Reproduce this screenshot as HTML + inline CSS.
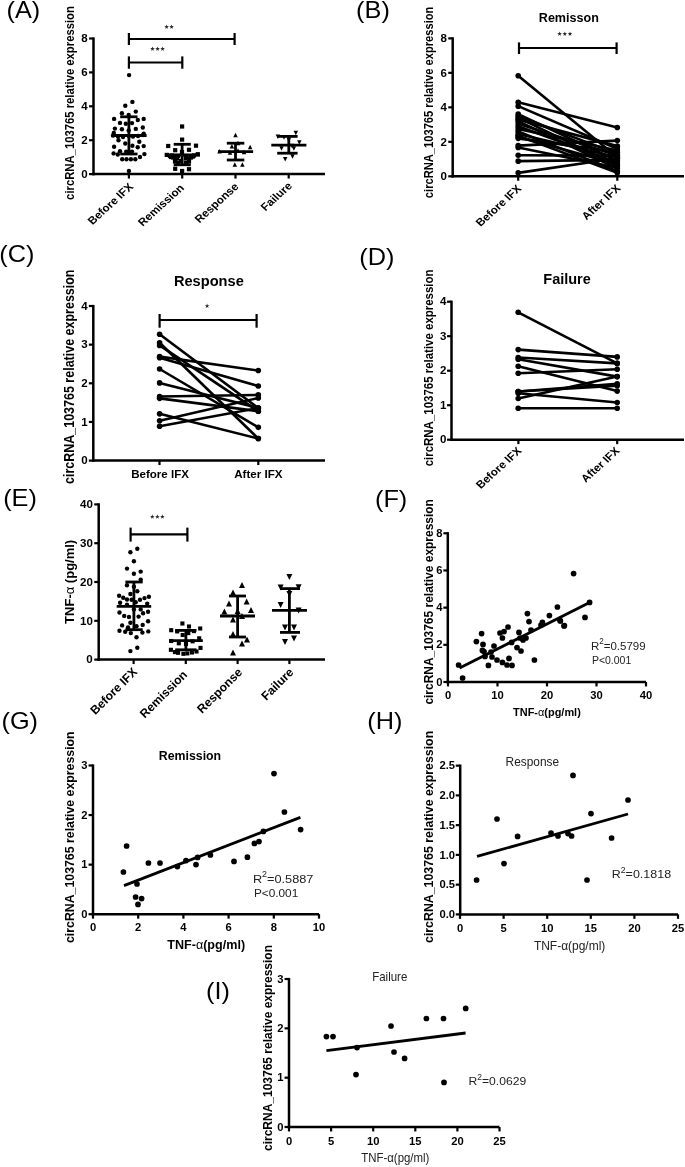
<!DOCTYPE html>
<html><head><meta charset="utf-8"><style>
html,body{margin:0;padding:0;background:#fff;}
body{width:685px;height:1167px;overflow:hidden;}
svg{display:block;will-change:transform;}
text{font-family:"Liberation Sans",sans-serif;}
</style></head><body>
<svg width="685" height="1167" viewBox="0 0 685 1167" font-family="Liberation Sans, sans-serif">
<rect width="685" height="1167" fill="#fff"/>
<text transform="translate(6.50,18.30) scale(1.1,1)" font-size="23" font-weight="normal" text-anchor="start" fill="#000">(A)</text>
<line x1="93.50" y1="37.40" x2="93.50" y2="175.35" stroke="#000" stroke-width="2.5" stroke-linecap="butt"/>
<line x1="89.05" y1="174.10" x2="93.50" y2="174.10" stroke="#000" stroke-width="2.2" stroke-linecap="butt"/>
<text transform="translate(87.60,177.86) scale(1.1,1)" font-size="10.5" font-weight="bold" text-anchor="end" fill="#000">0</text>
<line x1="89.05" y1="140.20" x2="93.50" y2="140.20" stroke="#000" stroke-width="2.2" stroke-linecap="butt"/>
<text transform="translate(87.60,143.96) scale(1.1,1)" font-size="10.5" font-weight="bold" text-anchor="end" fill="#000">2</text>
<line x1="89.05" y1="106.30" x2="93.50" y2="106.30" stroke="#000" stroke-width="2.2" stroke-linecap="butt"/>
<text transform="translate(87.60,110.06) scale(1.1,1)" font-size="10.5" font-weight="bold" text-anchor="end" fill="#000">4</text>
<line x1="89.05" y1="72.40" x2="93.50" y2="72.40" stroke="#000" stroke-width="2.2" stroke-linecap="butt"/>
<text transform="translate(87.60,76.16) scale(1.1,1)" font-size="10.5" font-weight="bold" text-anchor="end" fill="#000">6</text>
<line x1="89.05" y1="38.50" x2="93.50" y2="38.50" stroke="#000" stroke-width="2.2" stroke-linecap="butt"/>
<text transform="translate(87.60,42.26) scale(1.1,1)" font-size="10.5" font-weight="bold" text-anchor="end" fill="#000">8</text>
<line x1="92.25" y1="174.10" x2="325.00" y2="174.10" stroke="#000" stroke-width="2.5" stroke-linecap="butt"/>
<line x1="128.90" y1="174.10" x2="128.90" y2="178.55" stroke="#000" stroke-width="2.2" stroke-linecap="butt"/>
<line x1="182.20" y1="174.10" x2="182.20" y2="178.55" stroke="#000" stroke-width="2.2" stroke-linecap="butt"/>
<line x1="235.50" y1="174.10" x2="235.50" y2="178.55" stroke="#000" stroke-width="2.2" stroke-linecap="butt"/>
<line x1="288.70" y1="174.10" x2="288.70" y2="178.55" stroke="#000" stroke-width="2.2" stroke-linecap="butt"/>
<text transform="translate(73.60,103.00) scale(1.1,1) rotate(-90)" font-size="11.3" font-weight="bold" text-anchor="middle" fill="#000">circRNA_103765 relative expression</text>
<text transform="translate(134.00,187.40) scale(1.1,1) rotate(-45)" font-size="10.7" font-weight="bold" text-anchor="end" fill="#000">Before IFX</text>
<text transform="translate(184.80,188.50) scale(1.1,1) rotate(-45)" font-size="10.7" font-weight="bold" text-anchor="end" fill="#000">Remission</text>
<text transform="translate(239.30,187.30) scale(1.1,1) rotate(-45)" font-size="10.7" font-weight="bold" text-anchor="end" fill="#000">Response</text>
<text transform="translate(292.80,186.60) scale(1.1,1) rotate(-45)" font-size="10.7" font-weight="bold" text-anchor="end" fill="#000">Failure</text>
<line x1="128.90" y1="39.00" x2="234.60" y2="39.00" stroke="#000" stroke-width="2.2" stroke-linecap="butt"/>
<line x1="128.90" y1="33.00" x2="128.90" y2="45.00" stroke="#000" stroke-width="2.2" stroke-linecap="butt"/>
<line x1="234.60" y1="33.00" x2="234.60" y2="45.00" stroke="#000" stroke-width="2.2" stroke-linecap="butt"/>
<line x1="128.90" y1="62.50" x2="182.30" y2="62.50" stroke="#000" stroke-width="2.2" stroke-linecap="butt"/>
<line x1="128.90" y1="56.40" x2="128.90" y2="68.70" stroke="#000" stroke-width="2.2" stroke-linecap="butt"/>
<line x1="182.30" y1="56.40" x2="182.30" y2="68.70" stroke="#000" stroke-width="2.2" stroke-linecap="butt"/>
<polygon points="166.60,24.50 167.19,26.09 168.88,26.16 167.55,27.21 168.01,28.84 166.60,27.90 165.19,28.84 165.65,27.21 164.32,26.16 166.01,26.09" fill="#2b2b2b"/>
<polygon points="171.60,24.50 172.19,26.09 173.88,26.16 172.55,27.21 173.01,28.84 171.60,27.90 170.19,28.84 170.65,27.21 169.32,26.16 171.01,26.09" fill="#2b2b2b"/>
<polygon points="152.50,46.50 153.09,48.09 154.78,48.16 153.45,49.21 153.91,50.84 152.50,49.90 151.09,50.84 151.55,49.21 150.22,48.16 151.91,48.09" fill="#2b2b2b"/>
<polygon points="157.60,46.50 158.19,48.09 159.88,48.16 158.55,49.21 159.01,50.84 157.60,49.90 156.19,50.84 156.65,49.21 155.32,48.16 157.01,48.09" fill="#2b2b2b"/>
<polygon points="162.60,46.50 163.19,48.09 164.88,48.16 163.55,49.21 164.01,50.84 162.60,49.90 161.19,50.84 161.65,49.21 160.32,48.16 162.01,48.09" fill="#2b2b2b"/>
<circle cx="132.40" cy="101.90" r="2.2"/>
<circle cx="125.30" cy="105.80" r="2.2"/>
<circle cx="121.90" cy="113.20" r="2.2"/>
<circle cx="135.80" cy="111.60" r="2.2"/>
<circle cx="128.70" cy="114.90" r="2.2"/>
<circle cx="114.10" cy="118.90" r="2.2"/>
<circle cx="143.70" cy="118.90" r="2.2"/>
<circle cx="137.80" cy="120.00" r="2.2"/>
<circle cx="120.00" cy="122.90" r="2.2"/>
<circle cx="125.80" cy="123.80" r="2.2"/>
<circle cx="132.00" cy="123.10" r="2.2"/>
<circle cx="114.90" cy="128.60" r="2.2"/>
<circle cx="121.90" cy="129.30" r="2.2"/>
<circle cx="128.70" cy="130.40" r="2.2"/>
<circle cx="135.80" cy="128.90" r="2.2"/>
<circle cx="142.80" cy="127.50" r="2.2"/>
<circle cx="113.80" cy="133.00" r="2.2"/>
<circle cx="143.70" cy="133.70" r="2.2"/>
<circle cx="118.50" cy="140.30" r="2.2"/>
<circle cx="139.30" cy="141.70" r="2.2"/>
<circle cx="125.30" cy="143.50" r="2.2"/>
<circle cx="132.40" cy="145.70" r="2.2"/>
<circle cx="114.10" cy="146.70" r="2.2"/>
<circle cx="137.70" cy="147.20" r="2.2"/>
<circle cx="143.70" cy="146.10" r="2.2"/>
<circle cx="120.00" cy="151.20" r="2.2"/>
<circle cx="126.20" cy="151.60" r="2.2"/>
<circle cx="132.00" cy="151.60" r="2.2"/>
<circle cx="113.60" cy="153.40" r="2.2"/>
<circle cx="117.80" cy="154.50" r="2.2"/>
<circle cx="144.40" cy="154.10" r="2.2"/>
<circle cx="140.00" cy="157.00" r="2.2"/>
<circle cx="122.20" cy="159.20" r="2.2"/>
<circle cx="126.50" cy="159.20" r="2.2"/>
<circle cx="130.90" cy="159.20" r="2.2"/>
<circle cx="135.30" cy="159.20" r="2.2"/>
<circle cx="128.90" cy="170.90" r="2.2"/>
<circle cx="129.10" cy="75.10" r="2.2"/>
<circle cx="113.00" cy="135.50" r="2.2"/>
<circle cx="118.00" cy="136.50" r="2.2"/>
<circle cx="123.00" cy="137.00" r="2.2"/>
<circle cx="133.00" cy="136.50" r="2.2"/>
<circle cx="138.00" cy="136.00" r="2.2"/>
<circle cx="143.00" cy="135.00" r="2.2"/>
<circle cx="128.90" cy="136.00" r="2.2"/>
<line x1="111.20" y1="135.50" x2="146.60" y2="135.50" stroke="#000" stroke-width="2.8" stroke-linecap="butt"/>
<line x1="120.20" y1="116.80" x2="137.50" y2="116.80" stroke="#000" stroke-width="2.8" stroke-linecap="butt"/>
<line x1="120.20" y1="154.00" x2="137.50" y2="154.00" stroke="#000" stroke-width="2.8" stroke-linecap="butt"/>
<line x1="128.90" y1="116.80" x2="128.90" y2="154.00" stroke="#000" stroke-width="2.8" stroke-linecap="butt"/>
<rect x="180.00" y="124.40" width="4.2" height="4.2"/>
<rect x="180.00" y="137.50" width="4.2" height="4.2"/>
<rect x="166.10" y="143.90" width="4.2" height="4.2"/>
<rect x="193.90" y="143.60" width="4.2" height="4.2"/>
<rect x="173.10" y="148.10" width="4.2" height="4.2"/>
<rect x="186.90" y="147.70" width="4.2" height="4.2"/>
<rect x="164.70" y="152.80" width="4.2" height="4.2"/>
<rect x="195.70" y="152.10" width="4.2" height="4.2"/>
<rect x="168.90" y="154.90" width="4.2" height="4.2"/>
<rect x="173.10" y="156.90" width="4.2" height="4.2"/>
<rect x="186.90" y="156.40" width="4.2" height="4.2"/>
<rect x="175.90" y="153.90" width="4.2" height="4.2"/>
<rect x="183.90" y="153.90" width="4.2" height="4.2"/>
<rect x="179.90" y="149.90" width="4.2" height="4.2"/>
<rect x="172.90" y="159.40" width="4.2" height="4.2"/>
<rect x="186.90" y="159.40" width="4.2" height="4.2"/>
<rect x="190.90" y="154.40" width="4.2" height="4.2"/>
<rect x="169.90" y="153.40" width="4.2" height="4.2"/>
<rect x="174.90" y="155.90" width="4.2" height="4.2"/>
<rect x="183.90" y="155.90" width="4.2" height="4.2"/>
<rect x="178.90" y="158.90" width="4.2" height="4.2"/>
<rect x="170.90" y="155.40" width="4.2" height="4.2"/>
<rect x="188.90" y="155.40" width="4.2" height="4.2"/>
<rect x="175.90" y="160.40" width="4.2" height="4.2"/>
<rect x="183.90" y="160.40" width="4.2" height="4.2"/>
<rect x="167.90" y="153.90" width="4.2" height="4.2"/>
<rect x="191.90" y="153.40" width="4.2" height="4.2"/>
<rect x="173.10" y="166.70" width="4.2" height="4.2"/>
<rect x="186.90" y="167.10" width="4.2" height="4.2"/>
<rect x="180.00" y="168.90" width="4.2" height="4.2"/>
<line x1="164.90" y1="155.00" x2="200.00" y2="155.00" stroke="#000" stroke-width="2.8" stroke-linecap="butt"/>
<line x1="173.70" y1="144.30" x2="190.80" y2="144.30" stroke="#000" stroke-width="2.8" stroke-linecap="butt"/>
<line x1="173.70" y1="164.80" x2="190.80" y2="164.80" stroke="#000" stroke-width="2.8" stroke-linecap="butt"/>
<line x1="182.10" y1="144.30" x2="182.10" y2="164.80" stroke="#000" stroke-width="2.8" stroke-linecap="butt"/>
<polygon points="233.25,137.15 237.75,137.15 235.50,132.65"/>
<polygon points="229.65,148.45 234.15,148.45 231.90,143.95"/>
<polygon points="247.85,149.15 252.35,149.15 250.10,144.65"/>
<polygon points="232.55,166.65 237.05,166.65 234.80,162.15"/>
<polygon points="240.15,166.65 244.65,166.65 242.40,162.15"/>
<polygon points="217.25,153.55 221.75,153.55 219.50,149.05"/>
<polygon points="235.75,152.75 240.25,152.75 238.00,148.25"/>
<polygon points="241.75,154.25 246.25,154.25 244.00,149.75"/>
<polygon points="227.75,154.75 232.25,154.75 230.00,150.25"/>
<polygon points="235.75,145.25 240.25,145.25 238.00,140.75"/>
<line x1="218.00" y1="151.70" x2="253.10" y2="151.70" stroke="#000" stroke-width="2.8" stroke-linecap="butt"/>
<line x1="226.80" y1="143.20" x2="244.30" y2="143.20" stroke="#000" stroke-width="2.8" stroke-linecap="butt"/>
<line x1="226.80" y1="160.00" x2="244.30" y2="160.00" stroke="#000" stroke-width="2.8" stroke-linecap="butt"/>
<line x1="235.50" y1="143.20" x2="235.50" y2="160.00" stroke="#000" stroke-width="2.8" stroke-linecap="butt"/>
<polygon points="293.55,130.75 298.05,130.75 295.80,135.25"/>
<polygon points="275.65,134.45 280.15,134.45 277.90,138.95"/>
<polygon points="297.05,140.25 301.55,140.25 299.30,144.75"/>
<polygon points="279.25,146.15 283.75,146.15 281.50,150.65"/>
<polygon points="291.65,146.15 296.15,146.15 293.90,150.65"/>
<polygon points="282.95,157.05 287.45,157.05 285.20,161.55"/>
<polygon points="290.25,154.15 294.75,154.15 292.50,158.65"/>
<polygon points="286.55,137.75 291.05,137.75 288.80,142.25"/>
<polygon points="281.75,135.25 286.25,135.25 284.00,139.75"/>
<polygon points="289.75,143.75 294.25,143.75 292.00,148.25"/>
<line x1="271.30" y1="145.10" x2="306.40" y2="145.10" stroke="#000" stroke-width="2.8" stroke-linecap="butt"/>
<line x1="277.20" y1="136.40" x2="297.60" y2="136.40" stroke="#000" stroke-width="2.8" stroke-linecap="butt"/>
<line x1="277.20" y1="153.20" x2="297.60" y2="153.20" stroke="#000" stroke-width="2.8" stroke-linecap="butt"/>
<line x1="288.80" y1="136.40" x2="288.80" y2="153.20" stroke="#000" stroke-width="2.8" stroke-linecap="butt"/>
<text transform="translate(356.10,18.00) scale(1.1,1)" font-size="23" font-weight="normal" text-anchor="start" fill="#000">(B)</text>
<line x1="452.70" y1="37.28" x2="452.70" y2="177.55" stroke="#000" stroke-width="2.5" stroke-linecap="butt"/>
<line x1="448.25" y1="176.30" x2="452.70" y2="176.30" stroke="#000" stroke-width="2.2" stroke-linecap="butt"/>
<text transform="translate(447.00,180.06) scale(1.1,1)" font-size="10.5" font-weight="bold" text-anchor="end" fill="#000">0</text>
<line x1="448.25" y1="141.82" x2="452.70" y2="141.82" stroke="#000" stroke-width="2.2" stroke-linecap="butt"/>
<text transform="translate(447.00,145.58) scale(1.1,1)" font-size="10.5" font-weight="bold" text-anchor="end" fill="#000">2</text>
<line x1="448.25" y1="107.34" x2="452.70" y2="107.34" stroke="#000" stroke-width="2.2" stroke-linecap="butt"/>
<text transform="translate(447.00,111.10) scale(1.1,1)" font-size="10.5" font-weight="bold" text-anchor="end" fill="#000">4</text>
<line x1="448.25" y1="72.86" x2="452.70" y2="72.86" stroke="#000" stroke-width="2.2" stroke-linecap="butt"/>
<text transform="translate(447.00,76.62) scale(1.1,1)" font-size="10.5" font-weight="bold" text-anchor="end" fill="#000">6</text>
<line x1="448.25" y1="38.38" x2="452.70" y2="38.38" stroke="#000" stroke-width="2.2" stroke-linecap="butt"/>
<text transform="translate(447.00,42.14) scale(1.1,1)" font-size="10.5" font-weight="bold" text-anchor="end" fill="#000">8</text>
<line x1="451.45" y1="176.30" x2="684.00" y2="176.30" stroke="#000" stroke-width="2.5" stroke-linecap="butt"/>
<line x1="518.20" y1="176.30" x2="518.20" y2="180.75" stroke="#000" stroke-width="2.2" stroke-linecap="butt"/>
<line x1="617.30" y1="176.30" x2="617.30" y2="180.75" stroke="#000" stroke-width="2.2" stroke-linecap="butt"/>
<text transform="translate(432.70,102.40) scale(1.1,1) rotate(-90)" font-size="11.15" font-weight="bold" text-anchor="middle" fill="#000">circRNA_103765 relative expression</text>
<text transform="translate(538.80,21.90) scale(0.9982,1)" font-size="12.6" fill="#000"><tspan font-weight="bold">Remisson</tspan></text>
<text transform="translate(522.10,189.30) scale(1.1,1) rotate(-45)" font-size="10.7" font-weight="bold" text-anchor="end" fill="#000">Before IFX</text>
<text transform="translate(621.20,188.90) scale(1.1,1) rotate(-45)" font-size="10.7" font-weight="bold" text-anchor="end" fill="#000">After IFX</text>
<line x1="519.00" y1="48.00" x2="616.60" y2="48.00" stroke="#000" stroke-width="2.2" stroke-linecap="butt"/>
<line x1="519.00" y1="42.40" x2="519.00" y2="54.00" stroke="#000" stroke-width="2.2" stroke-linecap="butt"/>
<line x1="616.60" y1="42.40" x2="616.60" y2="54.00" stroke="#000" stroke-width="2.2" stroke-linecap="butt"/>
<polygon points="559.60,31.50 560.19,33.09 561.88,33.16 560.55,34.21 561.01,35.84 559.60,34.90 558.19,35.84 558.65,34.21 557.32,33.16 559.01,33.09" fill="#2b2b2b"/>
<polygon points="564.80,31.50 565.39,33.09 567.08,33.16 565.75,34.21 566.21,35.84 564.80,34.90 563.39,35.84 563.85,34.21 562.52,33.16 564.21,33.09" fill="#2b2b2b"/>
<polygon points="570.00,31.50 570.59,33.09 572.28,33.16 570.95,34.21 571.41,35.84 570.00,34.90 568.59,35.84 569.05,34.21 567.72,33.16 569.41,33.09" fill="#2b2b2b"/>
<line x1="518.20" y1="75.79" x2="617.30" y2="157.34" stroke="#000" stroke-width="2.6" stroke-linecap="butt"/>
<line x1="518.20" y1="102.34" x2="617.30" y2="127.51" stroke="#000" stroke-width="2.6" stroke-linecap="butt"/>
<line x1="518.20" y1="106.13" x2="617.30" y2="148.72" stroke="#000" stroke-width="2.6" stroke-linecap="butt"/>
<line x1="518.20" y1="114.06" x2="617.30" y2="160.78" stroke="#000" stroke-width="2.6" stroke-linecap="butt"/>
<line x1="518.20" y1="115.96" x2="617.30" y2="153.89" stroke="#000" stroke-width="2.6" stroke-linecap="butt"/>
<line x1="518.20" y1="117.68" x2="617.30" y2="165.96" stroke="#000" stroke-width="2.6" stroke-linecap="butt"/>
<line x1="518.20" y1="119.41" x2="617.30" y2="146.13" stroke="#000" stroke-width="2.6" stroke-linecap="butt"/>
<line x1="518.20" y1="121.13" x2="617.30" y2="168.54" stroke="#000" stroke-width="2.6" stroke-linecap="butt"/>
<line x1="518.20" y1="123.72" x2="617.30" y2="155.61" stroke="#000" stroke-width="2.6" stroke-linecap="butt"/>
<line x1="518.20" y1="126.30" x2="617.30" y2="162.51" stroke="#000" stroke-width="2.6" stroke-linecap="butt"/>
<line x1="518.20" y1="128.89" x2="617.30" y2="150.44" stroke="#000" stroke-width="2.6" stroke-linecap="butt"/>
<line x1="518.20" y1="131.48" x2="617.30" y2="171.13" stroke="#000" stroke-width="2.6" stroke-linecap="butt"/>
<line x1="518.20" y1="134.06" x2="617.30" y2="157.34" stroke="#000" stroke-width="2.6" stroke-linecap="butt"/>
<line x1="518.20" y1="136.65" x2="617.30" y2="164.23" stroke="#000" stroke-width="2.6" stroke-linecap="butt"/>
<line x1="518.20" y1="138.37" x2="617.30" y2="152.16" stroke="#000" stroke-width="2.6" stroke-linecap="butt"/>
<line x1="518.20" y1="145.61" x2="617.30" y2="140.61" stroke="#000" stroke-width="2.6" stroke-linecap="butt"/>
<line x1="518.20" y1="147.51" x2="617.30" y2="167.68" stroke="#000" stroke-width="2.6" stroke-linecap="butt"/>
<line x1="518.20" y1="155.27" x2="617.30" y2="155.61" stroke="#000" stroke-width="2.6" stroke-linecap="butt"/>
<line x1="518.20" y1="161.13" x2="617.30" y2="159.92" stroke="#000" stroke-width="2.6" stroke-linecap="butt"/>
<line x1="518.20" y1="172.85" x2="617.30" y2="158.20" stroke="#000" stroke-width="2.6" stroke-linecap="butt"/>
<line x1="518.20" y1="135.79" x2="617.30" y2="172.85" stroke="#000" stroke-width="2.6" stroke-linecap="butt"/>
<circle cx="518.20" cy="75.79" r="2.8"/>
<circle cx="617.30" cy="157.34" r="2.8"/>
<circle cx="518.20" cy="102.34" r="2.8"/>
<circle cx="617.30" cy="127.51" r="2.8"/>
<circle cx="518.20" cy="106.13" r="2.8"/>
<circle cx="617.30" cy="148.72" r="2.8"/>
<circle cx="518.20" cy="114.06" r="2.8"/>
<circle cx="617.30" cy="160.78" r="2.8"/>
<circle cx="518.20" cy="115.96" r="2.8"/>
<circle cx="617.30" cy="153.89" r="2.8"/>
<circle cx="518.20" cy="117.68" r="2.8"/>
<circle cx="617.30" cy="165.96" r="2.8"/>
<circle cx="518.20" cy="119.41" r="2.8"/>
<circle cx="617.30" cy="146.13" r="2.8"/>
<circle cx="518.20" cy="121.13" r="2.8"/>
<circle cx="617.30" cy="168.54" r="2.8"/>
<circle cx="518.20" cy="123.72" r="2.8"/>
<circle cx="617.30" cy="155.61" r="2.8"/>
<circle cx="518.20" cy="126.30" r="2.8"/>
<circle cx="617.30" cy="162.51" r="2.8"/>
<circle cx="518.20" cy="128.89" r="2.8"/>
<circle cx="617.30" cy="150.44" r="2.8"/>
<circle cx="518.20" cy="131.48" r="2.8"/>
<circle cx="617.30" cy="171.13" r="2.8"/>
<circle cx="518.20" cy="134.06" r="2.8"/>
<circle cx="617.30" cy="157.34" r="2.8"/>
<circle cx="518.20" cy="136.65" r="2.8"/>
<circle cx="617.30" cy="164.23" r="2.8"/>
<circle cx="518.20" cy="138.37" r="2.8"/>
<circle cx="617.30" cy="152.16" r="2.8"/>
<circle cx="518.20" cy="145.61" r="2.8"/>
<circle cx="617.30" cy="140.61" r="2.8"/>
<circle cx="518.20" cy="147.51" r="2.8"/>
<circle cx="617.30" cy="167.68" r="2.8"/>
<circle cx="518.20" cy="155.27" r="2.8"/>
<circle cx="617.30" cy="155.61" r="2.8"/>
<circle cx="518.20" cy="161.13" r="2.8"/>
<circle cx="617.30" cy="159.92" r="2.8"/>
<circle cx="518.20" cy="172.85" r="2.8"/>
<circle cx="617.30" cy="158.20" r="2.8"/>
<circle cx="518.20" cy="135.79" r="2.8"/>
<circle cx="617.30" cy="172.85" r="2.8"/>
<text transform="translate(-0.70,262.00) scale(1.1,1)" font-size="23" font-weight="normal" text-anchor="start" fill="#000">(C)</text>
<line x1="93.30" y1="304.90" x2="93.30" y2="461.85" stroke="#000" stroke-width="2.5" stroke-linecap="butt"/>
<line x1="88.85" y1="460.60" x2="93.30" y2="460.60" stroke="#000" stroke-width="2.2" stroke-linecap="butt"/>
<text transform="translate(87.80,464.36) scale(1.1,1)" font-size="10.5" font-weight="bold" text-anchor="end" fill="#000">0</text>
<line x1="88.85" y1="421.95" x2="93.30" y2="421.95" stroke="#000" stroke-width="2.2" stroke-linecap="butt"/>
<text transform="translate(87.80,425.71) scale(1.1,1)" font-size="10.5" font-weight="bold" text-anchor="end" fill="#000">1</text>
<line x1="88.85" y1="383.30" x2="93.30" y2="383.30" stroke="#000" stroke-width="2.2" stroke-linecap="butt"/>
<text transform="translate(87.80,387.06) scale(1.1,1)" font-size="10.5" font-weight="bold" text-anchor="end" fill="#000">2</text>
<line x1="88.85" y1="344.65" x2="93.30" y2="344.65" stroke="#000" stroke-width="2.2" stroke-linecap="butt"/>
<text transform="translate(87.80,348.41) scale(1.1,1)" font-size="10.5" font-weight="bold" text-anchor="end" fill="#000">3</text>
<line x1="88.85" y1="306.00" x2="93.30" y2="306.00" stroke="#000" stroke-width="2.2" stroke-linecap="butt"/>
<text transform="translate(87.80,309.76) scale(1.1,1)" font-size="10.5" font-weight="bold" text-anchor="end" fill="#000">4</text>
<line x1="92.05" y1="460.60" x2="325.00" y2="460.60" stroke="#000" stroke-width="2.5" stroke-linecap="butt"/>
<line x1="159.50" y1="460.60" x2="159.50" y2="465.05" stroke="#000" stroke-width="2.2" stroke-linecap="butt"/>
<line x1="258.30" y1="460.60" x2="258.30" y2="465.05" stroke="#000" stroke-width="2.2" stroke-linecap="butt"/>
<text transform="translate(74.10,376.75) scale(1.1,1) rotate(-90)" font-size="12.5" font-weight="bold" text-anchor="middle" fill="#000">circRNA_103765 relative expression</text>
<text transform="translate(173.90,285.50) scale(1.0230,1)" font-size="14.3" fill="#000"><tspan font-weight="bold">Response</tspan></text>
<text transform="translate(131.20,477.60) scale(1.0511,1)" font-size="11" fill="#000"><tspan font-weight="bold">Before IFX</tspan></text>
<text transform="translate(234.20,477.60) scale(1.0564,1)" font-size="11" fill="#000"><tspan font-weight="bold">After IFX</tspan></text>
<line x1="159.60" y1="320.00" x2="256.60" y2="320.00" stroke="#000" stroke-width="2.2" stroke-linecap="butt"/>
<line x1="159.60" y1="314.00" x2="159.60" y2="327.70" stroke="#000" stroke-width="2.2" stroke-linecap="butt"/>
<line x1="256.60" y1="314.00" x2="256.60" y2="327.70" stroke="#000" stroke-width="2.2" stroke-linecap="butt"/>
<polygon points="207.10,303.60 207.69,305.19 209.38,305.26 208.05,306.31 208.51,307.94 207.10,307.00 205.69,307.94 206.15,306.31 204.82,305.26 206.51,305.19" fill="#2b2b2b"/>
<line x1="159.60" y1="334.21" x2="258.30" y2="408.04" stroke="#000" stroke-width="2.6" stroke-linecap="butt"/>
<line x1="159.60" y1="342.72" x2="258.30" y2="438.57" stroke="#000" stroke-width="2.6" stroke-linecap="butt"/>
<line x1="159.60" y1="345.42" x2="258.30" y2="411.13" stroke="#000" stroke-width="2.6" stroke-linecap="butt"/>
<line x1="159.60" y1="356.63" x2="258.30" y2="370.55" stroke="#000" stroke-width="2.6" stroke-linecap="butt"/>
<line x1="159.60" y1="357.79" x2="258.30" y2="386.01" stroke="#000" stroke-width="2.6" stroke-linecap="butt"/>
<line x1="159.60" y1="369.00" x2="258.30" y2="427.36" stroke="#000" stroke-width="2.6" stroke-linecap="butt"/>
<line x1="159.60" y1="382.91" x2="258.30" y2="408.04" stroke="#000" stroke-width="2.6" stroke-linecap="butt"/>
<line x1="159.60" y1="396.44" x2="258.30" y2="394.90" stroke="#000" stroke-width="2.6" stroke-linecap="butt"/>
<line x1="159.60" y1="398.37" x2="258.30" y2="411.13" stroke="#000" stroke-width="2.6" stroke-linecap="butt"/>
<line x1="159.60" y1="413.83" x2="258.30" y2="438.57" stroke="#000" stroke-width="2.6" stroke-linecap="butt"/>
<line x1="159.60" y1="420.79" x2="258.30" y2="397.99" stroke="#000" stroke-width="2.6" stroke-linecap="butt"/>
<line x1="159.60" y1="426.20" x2="258.30" y2="408.04" stroke="#000" stroke-width="2.6" stroke-linecap="butt"/>
<circle cx="159.60" cy="334.21" r="2.8"/>
<circle cx="258.30" cy="408.04" r="2.8"/>
<circle cx="159.60" cy="342.72" r="2.8"/>
<circle cx="258.30" cy="438.57" r="2.8"/>
<circle cx="159.60" cy="345.42" r="2.8"/>
<circle cx="258.30" cy="411.13" r="2.8"/>
<circle cx="159.60" cy="356.63" r="2.8"/>
<circle cx="258.30" cy="370.55" r="2.8"/>
<circle cx="159.60" cy="357.79" r="2.8"/>
<circle cx="258.30" cy="386.01" r="2.8"/>
<circle cx="159.60" cy="369.00" r="2.8"/>
<circle cx="258.30" cy="427.36" r="2.8"/>
<circle cx="159.60" cy="382.91" r="2.8"/>
<circle cx="258.30" cy="408.04" r="2.8"/>
<circle cx="159.60" cy="396.44" r="2.8"/>
<circle cx="258.30" cy="394.90" r="2.8"/>
<circle cx="159.60" cy="398.37" r="2.8"/>
<circle cx="258.30" cy="411.13" r="2.8"/>
<circle cx="159.60" cy="413.83" r="2.8"/>
<circle cx="258.30" cy="438.57" r="2.8"/>
<circle cx="159.60" cy="420.79" r="2.8"/>
<circle cx="258.30" cy="397.99" r="2.8"/>
<circle cx="159.60" cy="426.20" r="2.8"/>
<circle cx="258.30" cy="408.04" r="2.8"/>
<text transform="translate(359.30,264.60) scale(1.1,1)" font-size="23" font-weight="normal" text-anchor="start" fill="#000">(D)</text>
<line x1="451.50" y1="300.60" x2="451.50" y2="440.95" stroke="#000" stroke-width="2.5" stroke-linecap="butt"/>
<line x1="447.05" y1="439.70" x2="451.50" y2="439.70" stroke="#000" stroke-width="2.2" stroke-linecap="butt"/>
<text transform="translate(446.50,443.46) scale(1.1,1)" font-size="10.5" font-weight="bold" text-anchor="end" fill="#000">0</text>
<line x1="447.05" y1="405.20" x2="451.50" y2="405.20" stroke="#000" stroke-width="2.2" stroke-linecap="butt"/>
<text transform="translate(446.50,408.96) scale(1.1,1)" font-size="10.5" font-weight="bold" text-anchor="end" fill="#000">1</text>
<line x1="447.05" y1="370.70" x2="451.50" y2="370.70" stroke="#000" stroke-width="2.2" stroke-linecap="butt"/>
<text transform="translate(446.50,374.46) scale(1.1,1)" font-size="10.5" font-weight="bold" text-anchor="end" fill="#000">2</text>
<line x1="447.05" y1="336.20" x2="451.50" y2="336.20" stroke="#000" stroke-width="2.2" stroke-linecap="butt"/>
<text transform="translate(446.50,339.96) scale(1.1,1)" font-size="10.5" font-weight="bold" text-anchor="end" fill="#000">3</text>
<line x1="447.05" y1="301.70" x2="451.50" y2="301.70" stroke="#000" stroke-width="2.2" stroke-linecap="butt"/>
<text transform="translate(446.50,305.46) scale(1.1,1)" font-size="10.5" font-weight="bold" text-anchor="end" fill="#000">4</text>
<line x1="450.25" y1="439.70" x2="684.00" y2="439.70" stroke="#000" stroke-width="2.5" stroke-linecap="butt"/>
<line x1="518.40" y1="439.70" x2="518.40" y2="444.15" stroke="#000" stroke-width="2.2" stroke-linecap="butt"/>
<line x1="617.20" y1="439.70" x2="617.20" y2="444.15" stroke="#000" stroke-width="2.2" stroke-linecap="butt"/>
<text transform="translate(432.70,367.90) scale(1.1,1) rotate(-90)" font-size="11.47" font-weight="bold" text-anchor="middle" fill="#000">circRNA_103765 relative expression</text>
<text transform="translate(543.30,284.20) scale(1.0134,1)" font-size="14.3" fill="#000"><tspan font-weight="bold">Failure</tspan></text>
<text transform="translate(522.30,451.50) scale(1.1,1) rotate(-45)" font-size="10.7" font-weight="bold" text-anchor="end" fill="#000">Before IFX</text>
<text transform="translate(620.40,451.50) scale(1.1,1) rotate(-45)" font-size="10.7" font-weight="bold" text-anchor="end" fill="#000">After IFX</text>
<line x1="518.20" y1="312.30" x2="617.20" y2="363.40" stroke="#000" stroke-width="2.6" stroke-linecap="butt"/>
<line x1="518.20" y1="349.60" x2="617.20" y2="356.90" stroke="#000" stroke-width="2.6" stroke-linecap="butt"/>
<line x1="518.20" y1="357.50" x2="617.20" y2="363.40" stroke="#000" stroke-width="2.6" stroke-linecap="butt"/>
<line x1="518.20" y1="359.20" x2="617.20" y2="376.60" stroke="#000" stroke-width="2.6" stroke-linecap="butt"/>
<line x1="518.20" y1="366.20" x2="617.20" y2="391.10" stroke="#000" stroke-width="2.6" stroke-linecap="butt"/>
<line x1="518.20" y1="373.20" x2="617.20" y2="369.20" stroke="#000" stroke-width="2.6" stroke-linecap="butt"/>
<line x1="518.20" y1="391.50" x2="617.20" y2="383.70" stroke="#000" stroke-width="2.6" stroke-linecap="butt"/>
<line x1="518.20" y1="393.20" x2="617.20" y2="402.50" stroke="#000" stroke-width="2.6" stroke-linecap="butt"/>
<line x1="518.20" y1="398.50" x2="617.20" y2="376.60" stroke="#000" stroke-width="2.6" stroke-linecap="butt"/>
<line x1="518.20" y1="391.50" x2="617.20" y2="385.80" stroke="#000" stroke-width="2.6" stroke-linecap="butt"/>
<line x1="518.20" y1="408.30" x2="617.20" y2="408.30" stroke="#000" stroke-width="2.6" stroke-linecap="butt"/>
<circle cx="518.20" cy="312.30" r="2.8"/>
<circle cx="617.20" cy="363.40" r="2.8"/>
<circle cx="518.20" cy="349.60" r="2.8"/>
<circle cx="617.20" cy="356.90" r="2.8"/>
<circle cx="518.20" cy="357.50" r="2.8"/>
<circle cx="617.20" cy="363.40" r="2.8"/>
<circle cx="518.20" cy="359.20" r="2.8"/>
<circle cx="617.20" cy="376.60" r="2.8"/>
<circle cx="518.20" cy="366.20" r="2.8"/>
<circle cx="617.20" cy="391.10" r="2.8"/>
<circle cx="518.20" cy="373.20" r="2.8"/>
<circle cx="617.20" cy="369.20" r="2.8"/>
<circle cx="518.20" cy="391.50" r="2.8"/>
<circle cx="617.20" cy="383.70" r="2.8"/>
<circle cx="518.20" cy="393.20" r="2.8"/>
<circle cx="617.20" cy="402.50" r="2.8"/>
<circle cx="518.20" cy="398.50" r="2.8"/>
<circle cx="617.20" cy="376.60" r="2.8"/>
<circle cx="518.20" cy="391.50" r="2.8"/>
<circle cx="617.20" cy="385.80" r="2.8"/>
<circle cx="518.20" cy="408.30" r="2.8"/>
<circle cx="617.20" cy="408.30" r="2.8"/>
<text transform="translate(3.20,505.90) scale(1.1,1)" font-size="23" font-weight="normal" text-anchor="start" fill="#000">(E)</text>
<line x1="98.70" y1="503.30" x2="98.70" y2="660.85" stroke="#000" stroke-width="2.5" stroke-linecap="butt"/>
<line x1="94.25" y1="659.60" x2="98.70" y2="659.60" stroke="#000" stroke-width="2.2" stroke-linecap="butt"/>
<text transform="translate(92.80,663.36) scale(1.1,1)" font-size="10.5" font-weight="bold" text-anchor="end" fill="#000">0</text>
<line x1="94.25" y1="620.80" x2="98.70" y2="620.80" stroke="#000" stroke-width="2.2" stroke-linecap="butt"/>
<text transform="translate(92.80,624.56) scale(1.1,1)" font-size="10.5" font-weight="bold" text-anchor="end" fill="#000">10</text>
<line x1="94.25" y1="582.00" x2="98.70" y2="582.00" stroke="#000" stroke-width="2.2" stroke-linecap="butt"/>
<text transform="translate(92.80,585.76) scale(1.1,1)" font-size="10.5" font-weight="bold" text-anchor="end" fill="#000">20</text>
<line x1="94.25" y1="543.20" x2="98.70" y2="543.20" stroke="#000" stroke-width="2.2" stroke-linecap="butt"/>
<text transform="translate(92.80,546.96) scale(1.1,1)" font-size="10.5" font-weight="bold" text-anchor="end" fill="#000">30</text>
<line x1="94.25" y1="504.40" x2="98.70" y2="504.40" stroke="#000" stroke-width="2.2" stroke-linecap="butt"/>
<text transform="translate(92.80,508.16) scale(1.1,1)" font-size="10.5" font-weight="bold" text-anchor="end" fill="#000">40</text>
<line x1="97.45" y1="659.60" x2="325.00" y2="659.60" stroke="#000" stroke-width="2.5" stroke-linecap="butt"/>
<line x1="133.60" y1="659.60" x2="133.60" y2="664.05" stroke="#000" stroke-width="2.2" stroke-linecap="butt"/>
<line x1="185.80" y1="659.60" x2="185.80" y2="664.05" stroke="#000" stroke-width="2.2" stroke-linecap="butt"/>
<line x1="237.60" y1="659.60" x2="237.60" y2="664.05" stroke="#000" stroke-width="2.2" stroke-linecap="butt"/>
<line x1="289.40" y1="659.60" x2="289.40" y2="664.05" stroke="#000" stroke-width="2.2" stroke-linecap="butt"/>
<text transform="translate(73.90,581.85) rotate(-90)" font-size="13" font-weight="bold" text-anchor="middle" fill="#000">TNF-<tspan font-weight="normal">α</tspan> (pg/ml)</text>
<text transform="translate(138.00,672.60) rotate(-45)" font-size="12.1" font-weight="bold" text-anchor="end" fill="#000">Before IFX</text>
<text transform="translate(188.00,675.40) rotate(-45)" font-size="12.1" font-weight="bold" text-anchor="end" fill="#000">Remission</text>
<text transform="translate(242.90,673.00) rotate(-45)" font-size="12.1" font-weight="bold" text-anchor="end" fill="#000">Response</text>
<text transform="translate(294.30,673.00) rotate(-45)" font-size="12.1" font-weight="bold" text-anchor="end" fill="#000">Failure</text>
<line x1="130.60" y1="534.40" x2="187.40" y2="534.40" stroke="#000" stroke-width="2.2" stroke-linecap="butt"/>
<line x1="130.60" y1="527.60" x2="130.60" y2="541.60" stroke="#000" stroke-width="2.2" stroke-linecap="butt"/>
<line x1="187.40" y1="527.60" x2="187.40" y2="541.60" stroke="#000" stroke-width="2.2" stroke-linecap="butt"/>
<polygon points="152.30,514.30 152.89,515.89 154.58,515.96 153.25,517.01 153.71,518.64 152.30,517.70 150.89,518.64 151.35,517.01 150.02,515.96 151.71,515.89" fill="#2b2b2b"/>
<polygon points="157.40,514.30 157.99,515.89 159.68,515.96 158.35,517.01 158.81,518.64 157.40,517.70 155.99,518.64 156.45,517.01 155.12,515.96 156.81,515.89" fill="#2b2b2b"/>
<polygon points="162.40,514.30 162.99,515.89 164.68,515.96 163.35,517.01 163.81,518.64 162.40,517.70 160.99,518.64 161.45,517.01 160.12,515.96 161.81,515.89" fill="#2b2b2b"/>
<circle cx="137.30" cy="548.70" r="2.2"/>
<circle cx="130.40" cy="552.30" r="2.2"/>
<circle cx="133.90" cy="561.30" r="2.2"/>
<circle cx="127.00" cy="568.60" r="2.2"/>
<circle cx="140.70" cy="571.60" r="2.2"/>
<circle cx="133.90" cy="573.70" r="2.2"/>
<circle cx="140.70" cy="579.60" r="2.2"/>
<circle cx="127.00" cy="585.30" r="2.2"/>
<circle cx="133.90" cy="586.80" r="2.2"/>
<circle cx="137.30" cy="591.20" r="2.2"/>
<circle cx="130.40" cy="594.00" r="2.2"/>
<circle cx="119.10" cy="595.80" r="2.2"/>
<circle cx="123.20" cy="597.80" r="2.2"/>
<circle cx="127.00" cy="599.50" r="2.2"/>
<circle cx="131.60" cy="599.70" r="2.2"/>
<circle cx="140.00" cy="599.70" r="2.2"/>
<circle cx="144.50" cy="598.10" r="2.2"/>
<circle cx="148.90" cy="596.80" r="2.2"/>
<circle cx="120.10" cy="602.80" r="2.2"/>
<circle cx="127.00" cy="604.80" r="2.2"/>
<circle cx="135.70" cy="602.20" r="2.2"/>
<circle cx="147.20" cy="603.60" r="2.2"/>
<circle cx="133.90" cy="609.40" r="2.2"/>
<circle cx="140.70" cy="609.40" r="2.2"/>
<circle cx="119.50" cy="612.50" r="2.2"/>
<circle cx="148.10" cy="611.80" r="2.2"/>
<circle cx="124.20" cy="615.90" r="2.2"/>
<circle cx="129.00" cy="617.00" r="2.2"/>
<circle cx="138.60" cy="616.60" r="2.2"/>
<circle cx="143.10" cy="613.30" r="2.2"/>
<circle cx="148.10" cy="621.30" r="2.2"/>
<circle cx="122.10" cy="625.40" r="2.2"/>
<circle cx="130.40" cy="622.80" r="2.2"/>
<circle cx="142.70" cy="624.90" r="2.2"/>
<circle cx="128.00" cy="627.40" r="2.2"/>
<circle cx="136.50" cy="626.20" r="2.2"/>
<circle cx="119.50" cy="630.70" r="2.2"/>
<circle cx="125.20" cy="631.80" r="2.2"/>
<circle cx="130.80" cy="633.10" r="2.2"/>
<circle cx="142.40" cy="632.60" r="2.2"/>
<circle cx="148.30" cy="631.40" r="2.2"/>
<circle cx="136.50" cy="637.20" r="2.2"/>
<circle cx="137.30" cy="647.80" r="2.2"/>
<circle cx="130.40" cy="651.10" r="2.2"/>
<line x1="116.70" y1="606.40" x2="151.20" y2="606.40" stroke="#000" stroke-width="2.8" stroke-linecap="butt"/>
<line x1="125.40" y1="582.00" x2="142.70" y2="582.00" stroke="#000" stroke-width="2.8" stroke-linecap="butt"/>
<line x1="125.40" y1="629.70" x2="142.70" y2="629.70" stroke="#000" stroke-width="2.8" stroke-linecap="butt"/>
<line x1="133.90" y1="582.00" x2="133.90" y2="629.70" stroke="#000" stroke-width="2.8" stroke-linecap="butt"/>
<rect x="180.35" y="621.45" width="4.1" height="4.1"/>
<rect x="186.95" y="624.45" width="4.1" height="4.1"/>
<rect x="169.15" y="628.15" width="4.1" height="4.1"/>
<rect x="175.15" y="629.35" width="4.1" height="4.1"/>
<rect x="191.85" y="629.05" width="4.1" height="4.1"/>
<rect x="198.15" y="626.45" width="4.1" height="4.1"/>
<rect x="186.25" y="631.05" width="4.1" height="4.1"/>
<rect x="180.65" y="632.95" width="4.1" height="4.1"/>
<rect x="169.15" y="638.95" width="4.1" height="4.1"/>
<rect x="176.75" y="641.25" width="4.1" height="4.1"/>
<rect x="183.95" y="641.85" width="4.1" height="4.1"/>
<rect x="190.55" y="639.25" width="4.1" height="4.1"/>
<rect x="197.15" y="636.25" width="4.1" height="4.1"/>
<rect x="168.85" y="647.75" width="4.1" height="4.1"/>
<rect x="172.85" y="650.05" width="4.1" height="4.1"/>
<rect x="176.05" y="650.75" width="4.1" height="4.1"/>
<rect x="181.35" y="651.75" width="4.1" height="4.1"/>
<rect x="185.25" y="651.35" width="4.1" height="4.1"/>
<rect x="189.85" y="650.45" width="4.1" height="4.1"/>
<rect x="194.45" y="649.45" width="4.1" height="4.1"/>
<rect x="198.45" y="645.85" width="4.1" height="4.1"/>
<line x1="169.00" y1="640.60" x2="202.80" y2="640.60" stroke="#000" stroke-width="2.8" stroke-linecap="butt"/>
<line x1="175.20" y1="630.40" x2="196.50" y2="630.40" stroke="#000" stroke-width="2.8" stroke-linecap="butt"/>
<line x1="175.20" y1="649.80" x2="196.50" y2="649.80" stroke="#000" stroke-width="2.8" stroke-linecap="butt"/>
<line x1="185.90" y1="630.40" x2="185.90" y2="649.80" stroke="#000" stroke-width="2.8" stroke-linecap="butt"/>
<polygon points="239.00,588.00 245.00,588.00 242.00,582.00"/>
<polygon points="230.00,595.40 236.00,595.40 233.00,589.40"/>
<polygon points="226.00,606.60 232.00,606.60 229.00,600.60"/>
<polygon points="243.60,604.60 249.60,604.60 246.60,598.60"/>
<polygon points="221.40,614.60 227.40,614.60 224.40,608.60"/>
<polygon points="248.00,613.00 254.00,613.00 251.00,607.00"/>
<polygon points="234.60,614.00 240.60,614.00 237.60,608.00"/>
<polygon points="230.00,622.60 236.00,622.60 233.00,616.60"/>
<polygon points="239.00,619.00 245.00,619.00 242.00,613.00"/>
<polygon points="230.00,637.00 236.00,637.00 233.00,631.00"/>
<polygon points="244.00,642.60 250.00,642.60 247.00,636.60"/>
<polygon points="239.00,646.60 245.00,646.60 242.00,640.60"/>
<polygon points="230.00,655.40 236.00,655.40 233.00,649.40"/>
<line x1="220.00" y1="616.00" x2="255.00" y2="616.00" stroke="#000" stroke-width="2.8" stroke-linecap="butt"/>
<line x1="229.00" y1="596.00" x2="246.00" y2="596.00" stroke="#000" stroke-width="2.8" stroke-linecap="butt"/>
<line x1="229.00" y1="637.00" x2="246.00" y2="637.00" stroke="#000" stroke-width="2.8" stroke-linecap="butt"/>
<line x1="237.60" y1="596.00" x2="237.60" y2="637.00" stroke="#000" stroke-width="2.8" stroke-linecap="butt"/>
<polygon points="286.40,574.00 292.40,574.00 289.40,580.00"/>
<polygon points="277.60,584.60 283.60,584.60 280.60,590.60"/>
<polygon points="295.60,584.20 301.60,584.20 298.60,590.20"/>
<polygon points="286.40,591.00 292.40,591.00 289.40,597.00"/>
<polygon points="277.60,602.00 283.60,602.00 280.60,608.00"/>
<polygon points="295.60,607.40 301.60,607.40 298.60,613.40"/>
<polygon points="282.00,624.60 288.00,624.60 285.00,630.60"/>
<polygon points="291.00,624.60 297.00,624.60 294.00,630.60"/>
<polygon points="282.00,639.00 288.00,639.00 285.00,645.00"/>
<polygon points="291.00,635.40 297.00,635.40 294.00,641.40"/>
<line x1="272.00" y1="610.40" x2="307.00" y2="610.40" stroke="#000" stroke-width="2.8" stroke-linecap="butt"/>
<line x1="280.00" y1="588.60" x2="300.00" y2="588.60" stroke="#000" stroke-width="2.8" stroke-linecap="butt"/>
<line x1="280.00" y1="632.40" x2="300.00" y2="632.40" stroke="#000" stroke-width="2.8" stroke-linecap="butt"/>
<line x1="289.40" y1="588.60" x2="289.40" y2="632.40" stroke="#000" stroke-width="2.8" stroke-linecap="butt"/>
<text transform="translate(375.00,506.90) scale(1.1,1)" font-size="23" font-weight="normal" text-anchor="start" fill="#000">(F)</text>
<line x1="447.80" y1="532.18" x2="447.80" y2="683.25" stroke="#000" stroke-width="2.5" stroke-linecap="butt"/>
<line x1="443.35" y1="682.00" x2="447.80" y2="682.00" stroke="#000" stroke-width="2.2" stroke-linecap="butt"/>
<text transform="translate(442.50,685.65) scale(1.1,1)" font-size="10.2" font-weight="bold" text-anchor="end" fill="#000">0</text>
<line x1="443.35" y1="644.82" x2="447.80" y2="644.82" stroke="#000" stroke-width="2.2" stroke-linecap="butt"/>
<text transform="translate(442.50,648.47) scale(1.1,1)" font-size="10.2" font-weight="bold" text-anchor="end" fill="#000">2</text>
<line x1="443.35" y1="607.64" x2="447.80" y2="607.64" stroke="#000" stroke-width="2.2" stroke-linecap="butt"/>
<text transform="translate(442.50,611.29) scale(1.1,1)" font-size="10.2" font-weight="bold" text-anchor="end" fill="#000">4</text>
<line x1="443.35" y1="570.46" x2="447.80" y2="570.46" stroke="#000" stroke-width="2.2" stroke-linecap="butt"/>
<text transform="translate(442.50,574.11) scale(1.1,1)" font-size="10.2" font-weight="bold" text-anchor="end" fill="#000">6</text>
<line x1="443.35" y1="533.28" x2="447.80" y2="533.28" stroke="#000" stroke-width="2.2" stroke-linecap="butt"/>
<text transform="translate(442.50,536.93) scale(1.1,1)" font-size="10.2" font-weight="bold" text-anchor="end" fill="#000">8</text>
<line x1="446.55" y1="682.00" x2="646.00" y2="682.00" stroke="#000" stroke-width="2.5" stroke-linecap="butt"/>
<line x1="448.00" y1="682.00" x2="448.00" y2="686.45" stroke="#000" stroke-width="2.2" stroke-linecap="butt"/>
<line x1="497.50" y1="682.00" x2="497.50" y2="686.45" stroke="#000" stroke-width="2.2" stroke-linecap="butt"/>
<line x1="547.00" y1="682.00" x2="547.00" y2="686.45" stroke="#000" stroke-width="2.2" stroke-linecap="butt"/>
<line x1="596.50" y1="682.00" x2="596.50" y2="686.45" stroke="#000" stroke-width="2.2" stroke-linecap="butt"/>
<line x1="646.00" y1="682.00" x2="646.00" y2="686.45" stroke="#000" stroke-width="2.2" stroke-linecap="butt"/>
<text transform="translate(448.00,699.30) scale(1.1,1)" font-size="10.2" font-weight="bold" text-anchor="middle" fill="#000">0</text>
<text transform="translate(497.50,699.30) scale(1.1,1)" font-size="10.2" font-weight="bold" text-anchor="middle" fill="#000">10</text>
<text transform="translate(547.00,699.30) scale(1.1,1)" font-size="10.2" font-weight="bold" text-anchor="middle" fill="#000">20</text>
<text transform="translate(596.50,699.30) scale(1.1,1)" font-size="10.2" font-weight="bold" text-anchor="middle" fill="#000">30</text>
<text transform="translate(646.00,699.30) scale(1.1,1)" font-size="10.2" font-weight="bold" text-anchor="middle" fill="#000">40</text>
<text transform="translate(432.50,601.85) scale(1.1,1) rotate(-90)" font-size="11.98" font-weight="bold" text-anchor="middle" fill="#000">circRNA_103765 relative expression</text>
<text transform="translate(513.10,716.40) scale(0.9443,1)" font-size="11.6" fill="#000"><tspan font-weight="bold">TNF-</tspan><tspan font-weight="normal">α</tspan><tspan font-weight="bold">(pg/ml)</tspan></text>
<line x1="459.60" y1="668.00" x2="589.60" y2="602.40" stroke="#000" stroke-width="2.8" stroke-linecap="butt"/>
<circle cx="458.60" cy="665.00" r="2.85"/>
<circle cx="462.60" cy="678.00" r="2.85"/>
<circle cx="476.40" cy="641.60" r="2.85"/>
<circle cx="481.60" cy="633.60" r="2.85"/>
<circle cx="483.00" cy="644.40" r="2.85"/>
<circle cx="482.40" cy="650.40" r="2.85"/>
<circle cx="484.00" cy="651.60" r="2.85"/>
<circle cx="485.00" cy="656.40" r="2.85"/>
<circle cx="488.40" cy="665.40" r="2.85"/>
<circle cx="491.00" cy="652.00" r="2.85"/>
<circle cx="492.00" cy="657.00" r="2.85"/>
<circle cx="494.00" cy="646.00" r="2.85"/>
<circle cx="497.00" cy="660.00" r="2.85"/>
<circle cx="500.00" cy="633.00" r="2.85"/>
<circle cx="502.40" cy="638.00" r="2.85"/>
<circle cx="504.00" cy="631.60" r="2.85"/>
<circle cx="502.40" cy="662.40" r="2.85"/>
<circle cx="508.00" cy="627.00" r="2.85"/>
<circle cx="507.00" cy="665.00" r="2.85"/>
<circle cx="509.00" cy="658.40" r="2.85"/>
<circle cx="511.60" cy="642.40" r="2.85"/>
<circle cx="512.00" cy="665.40" r="2.85"/>
<circle cx="517.00" cy="647.60" r="2.85"/>
<circle cx="519.00" cy="632.40" r="2.85"/>
<circle cx="521.00" cy="651.00" r="2.85"/>
<circle cx="520.00" cy="638.00" r="2.85"/>
<circle cx="523.00" cy="640.00" r="2.85"/>
<circle cx="526.00" cy="638.00" r="2.85"/>
<circle cx="527.40" cy="613.60" r="2.85"/>
<circle cx="529.00" cy="621.60" r="2.85"/>
<circle cx="531.00" cy="630.00" r="2.85"/>
<circle cx="534.40" cy="660.00" r="2.85"/>
<circle cx="541.00" cy="625.00" r="2.85"/>
<circle cx="542.40" cy="622.40" r="2.85"/>
<circle cx="549.40" cy="615.60" r="2.85"/>
<circle cx="557.40" cy="607.00" r="2.85"/>
<circle cx="560.40" cy="621.00" r="2.85"/>
<circle cx="564.00" cy="626.00" r="2.85"/>
<circle cx="573.60" cy="573.60" r="2.85"/>
<circle cx="589.60" cy="602.40" r="2.85"/>
<circle cx="585.00" cy="617.40" r="2.85"/>
<circle cx="560.00" cy="620.40" r="2.85"/>
<circle cx="564.40" cy="625.60" r="2.85"/>
<text transform="translate(590.98,649.80) scale(0.9750,1)" font-size="11.8" fill="#222">R<tspan font-size="8.26" dy="-5.31">2</tspan><tspan dy="5.31">=0.5799</tspan></text>
<text transform="translate(591.90,663.70) scale(0.8898,1)" font-size="11.8" fill="#222"><tspan font-weight="normal">P&lt;0.001</tspan></text>
<text transform="translate(1.50,729.00) scale(1.1,1)" font-size="23" font-weight="normal" text-anchor="start" fill="#000">(G)</text>
<line x1="93.00" y1="764.39" x2="93.00" y2="915.45" stroke="#000" stroke-width="2.5" stroke-linecap="butt"/>
<line x1="88.55" y1="914.20" x2="93.00" y2="914.20" stroke="#000" stroke-width="2.2" stroke-linecap="butt"/>
<text transform="translate(87.60,917.85) scale(1.1,1)" font-size="10.2" font-weight="bold" text-anchor="end" fill="#000">0</text>
<line x1="88.55" y1="864.63" x2="93.00" y2="864.63" stroke="#000" stroke-width="2.2" stroke-linecap="butt"/>
<text transform="translate(87.60,868.28) scale(1.1,1)" font-size="10.2" font-weight="bold" text-anchor="end" fill="#000">1</text>
<line x1="88.55" y1="815.06" x2="93.00" y2="815.06" stroke="#000" stroke-width="2.2" stroke-linecap="butt"/>
<text transform="translate(87.60,818.71) scale(1.1,1)" font-size="10.2" font-weight="bold" text-anchor="end" fill="#000">2</text>
<line x1="88.55" y1="765.49" x2="93.00" y2="765.49" stroke="#000" stroke-width="2.2" stroke-linecap="butt"/>
<text transform="translate(87.60,769.14) scale(1.1,1)" font-size="10.2" font-weight="bold" text-anchor="end" fill="#000">3</text>
<line x1="91.75" y1="914.20" x2="319.00" y2="914.20" stroke="#000" stroke-width="2.5" stroke-linecap="butt"/>
<line x1="93.00" y1="914.20" x2="93.00" y2="918.65" stroke="#000" stroke-width="2.2" stroke-linecap="butt"/>
<line x1="138.20" y1="914.20" x2="138.20" y2="918.65" stroke="#000" stroke-width="2.2" stroke-linecap="butt"/>
<line x1="183.40" y1="914.20" x2="183.40" y2="918.65" stroke="#000" stroke-width="2.2" stroke-linecap="butt"/>
<line x1="228.60" y1="914.20" x2="228.60" y2="918.65" stroke="#000" stroke-width="2.2" stroke-linecap="butt"/>
<line x1="273.80" y1="914.20" x2="273.80" y2="918.65" stroke="#000" stroke-width="2.2" stroke-linecap="butt"/>
<line x1="319.00" y1="914.20" x2="319.00" y2="918.65" stroke="#000" stroke-width="2.2" stroke-linecap="butt"/>
<text transform="translate(93.00,931.30) scale(1.1,1)" font-size="10.2" font-weight="bold" text-anchor="middle" fill="#000">0</text>
<text transform="translate(138.20,931.30) scale(1.1,1)" font-size="10.2" font-weight="bold" text-anchor="middle" fill="#000">2</text>
<text transform="translate(183.40,931.30) scale(1.1,1)" font-size="10.2" font-weight="bold" text-anchor="middle" fill="#000">4</text>
<text transform="translate(228.60,931.30) scale(1.1,1)" font-size="10.2" font-weight="bold" text-anchor="middle" fill="#000">6</text>
<text transform="translate(273.80,931.30) scale(1.1,1)" font-size="10.2" font-weight="bold" text-anchor="middle" fill="#000">8</text>
<text transform="translate(319.00,931.30) scale(1.1,1)" font-size="10.2" font-weight="bold" text-anchor="middle" fill="#000">10</text>
<text transform="translate(74.20,837.20) scale(1.1,1) rotate(-90)" font-size="12.33" font-weight="bold" text-anchor="middle" fill="#000">circRNA_103765 relative expression</text>
<text transform="translate(158.80,759.60) scale(0.9873,1)" font-size="12.5" fill="#000"><tspan font-weight="bold">Remission</tspan></text>
<text transform="translate(167.20,949.20) scale(1.0501,1)" font-size="12" fill="#000"><tspan font-weight="bold">TNF-</tspan><tspan font-weight="normal">α</tspan><tspan font-weight="bold">(pg/ml)</tspan></text>
<line x1="124.00" y1="885.60" x2="300.40" y2="817.40" stroke="#000" stroke-width="2.8" stroke-linecap="butt"/>
<circle cx="126.60" cy="846.00" r="2.85"/>
<circle cx="123.40" cy="872.00" r="2.85"/>
<circle cx="137.00" cy="884.00" r="2.85"/>
<circle cx="135.60" cy="897.00" r="2.85"/>
<circle cx="141.60" cy="898.60" r="2.85"/>
<circle cx="138.00" cy="904.40" r="2.85"/>
<circle cx="148.40" cy="863.00" r="2.85"/>
<circle cx="160.00" cy="863.00" r="2.85"/>
<circle cx="177.40" cy="866.60" r="2.85"/>
<circle cx="186.00" cy="860.60" r="2.85"/>
<circle cx="196.00" cy="864.60" r="2.85"/>
<circle cx="197.60" cy="857.40" r="2.85"/>
<circle cx="210.40" cy="855.00" r="2.85"/>
<circle cx="274.00" cy="773.60" r="2.85"/>
<circle cx="284.40" cy="812.00" r="2.85"/>
<circle cx="300.60" cy="829.60" r="2.85"/>
<circle cx="263.40" cy="831.40" r="2.85"/>
<circle cx="259.00" cy="841.60" r="2.85"/>
<circle cx="254.40" cy="843.40" r="2.85"/>
<circle cx="247.40" cy="857.20" r="2.85"/>
<circle cx="234.00" cy="861.40" r="2.85"/>
<text transform="translate(252.88,882.70) scale(1.0800,1)" font-size="11.8" fill="#222">R<tspan font-size="8.26" dy="-5.31">2</tspan><tspan dy="5.31">=0.5887</tspan></text>
<text transform="translate(253.90,896.50) scale(1.0005,1)" font-size="11.8" fill="#222"><tspan font-weight="normal">P&lt;0.001</tspan></text>
<text transform="translate(367.30,729.00) scale(1.1,1)" font-size="23" font-weight="normal" text-anchor="start" fill="#000">(H)</text>
<line x1="460.20" y1="764.55" x2="460.20" y2="915.65" stroke="#000" stroke-width="2.5" stroke-linecap="butt"/>
<line x1="455.75" y1="914.40" x2="460.20" y2="914.40" stroke="#000" stroke-width="2.2" stroke-linecap="butt"/>
<text transform="translate(455.00,918.05) scale(1.1,1)" font-size="10.2" font-weight="bold" text-anchor="end" fill="#000">0.0</text>
<line x1="455.75" y1="884.65" x2="460.20" y2="884.65" stroke="#000" stroke-width="2.2" stroke-linecap="butt"/>
<text transform="translate(455.00,888.30) scale(1.1,1)" font-size="10.2" font-weight="bold" text-anchor="end" fill="#000">0.5</text>
<line x1="455.75" y1="854.90" x2="460.20" y2="854.90" stroke="#000" stroke-width="2.2" stroke-linecap="butt"/>
<text transform="translate(455.00,858.55) scale(1.1,1)" font-size="10.2" font-weight="bold" text-anchor="end" fill="#000">1.0</text>
<line x1="455.75" y1="825.15" x2="460.20" y2="825.15" stroke="#000" stroke-width="2.2" stroke-linecap="butt"/>
<text transform="translate(455.00,828.80) scale(1.1,1)" font-size="10.2" font-weight="bold" text-anchor="end" fill="#000">1.5</text>
<line x1="455.75" y1="795.40" x2="460.20" y2="795.40" stroke="#000" stroke-width="2.2" stroke-linecap="butt"/>
<text transform="translate(455.00,799.05) scale(1.1,1)" font-size="10.2" font-weight="bold" text-anchor="end" fill="#000">2.0</text>
<line x1="455.75" y1="765.65" x2="460.20" y2="765.65" stroke="#000" stroke-width="2.2" stroke-linecap="butt"/>
<text transform="translate(455.00,769.30) scale(1.1,1)" font-size="10.2" font-weight="bold" text-anchor="end" fill="#000">2.5</text>
<line x1="458.95" y1="914.40" x2="678.00" y2="914.40" stroke="#000" stroke-width="2.5" stroke-linecap="butt"/>
<line x1="460.00" y1="914.40" x2="460.00" y2="918.85" stroke="#000" stroke-width="2.2" stroke-linecap="butt"/>
<line x1="503.60" y1="914.40" x2="503.60" y2="918.85" stroke="#000" stroke-width="2.2" stroke-linecap="butt"/>
<line x1="547.20" y1="914.40" x2="547.20" y2="918.85" stroke="#000" stroke-width="2.2" stroke-linecap="butt"/>
<line x1="590.80" y1="914.40" x2="590.80" y2="918.85" stroke="#000" stroke-width="2.2" stroke-linecap="butt"/>
<line x1="634.40" y1="914.40" x2="634.40" y2="918.85" stroke="#000" stroke-width="2.2" stroke-linecap="butt"/>
<line x1="678.00" y1="914.40" x2="678.00" y2="918.85" stroke="#000" stroke-width="2.2" stroke-linecap="butt"/>
<text transform="translate(460.00,932.00) scale(1.1,1)" font-size="10.2" font-weight="bold" text-anchor="middle" fill="#000">0</text>
<text transform="translate(503.60,932.00) scale(1.1,1)" font-size="10.2" font-weight="bold" text-anchor="middle" fill="#000">5</text>
<text transform="translate(547.20,932.00) scale(1.1,1)" font-size="10.2" font-weight="bold" text-anchor="middle" fill="#000">10</text>
<text transform="translate(590.80,932.00) scale(1.1,1)" font-size="10.2" font-weight="bold" text-anchor="middle" fill="#000">15</text>
<text transform="translate(634.40,932.00) scale(1.1,1)" font-size="10.2" font-weight="bold" text-anchor="middle" fill="#000">20</text>
<text transform="translate(678.00,932.00) scale(1.1,1)" font-size="10.2" font-weight="bold" text-anchor="middle" fill="#000">25</text>
<text transform="translate(432.70,836.90) scale(1.1,1) rotate(-90)" font-size="12.36" font-weight="bold" text-anchor="middle" fill="#000">circRNA_103765 relative expression</text>
<text transform="translate(505.60,766.30) scale(0.9662,1)" font-size="12.3" fill="#222"><tspan font-weight="normal">Response</tspan></text>
<text transform="translate(533.90,949.50) scale(0.9819,1)" font-size="12.2" fill="#222"><tspan font-weight="normal">TNF-α(pg/ml)</tspan></text>
<line x1="477.00" y1="856.40" x2="628.00" y2="814.00" stroke="#000" stroke-width="2.8" stroke-linecap="butt"/>
<circle cx="476.60" cy="880.00" r="2.85"/>
<circle cx="497.00" cy="819.00" r="2.85"/>
<circle cx="504.00" cy="863.60" r="2.85"/>
<circle cx="517.60" cy="836.40" r="2.85"/>
<circle cx="551.00" cy="833.00" r="2.85"/>
<circle cx="558.00" cy="836.00" r="2.85"/>
<circle cx="568.00" cy="833.60" r="2.85"/>
<circle cx="571.60" cy="836.00" r="2.85"/>
<circle cx="573.00" cy="775.40" r="2.85"/>
<circle cx="628.00" cy="800.00" r="2.85"/>
<circle cx="591.00" cy="813.60" r="2.85"/>
<circle cx="611.60" cy="838.00" r="2.85"/>
<circle cx="587.00" cy="880.00" r="2.85"/>
<text transform="translate(611.70,878.40) scale(1.0600,1)" font-size="11.8" fill="#222">R<tspan font-size="8.26" dy="-5.31">2</tspan><tspan dy="5.31">=0.1818</tspan></text>
<text transform="translate(206.00,998.60) scale(1.1,1)" font-size="23" font-weight="normal" text-anchor="start" fill="#000">(I)</text>
<line x1="289.00" y1="977.91" x2="289.00" y2="1128.25" stroke="#000" stroke-width="2.5" stroke-linecap="butt"/>
<line x1="284.55" y1="1127.00" x2="289.00" y2="1127.00" stroke="#000" stroke-width="2.2" stroke-linecap="butt"/>
<text transform="translate(283.60,1130.65) scale(1.1,1)" font-size="10.2" font-weight="bold" text-anchor="end" fill="#000">0</text>
<line x1="284.55" y1="1077.67" x2="289.00" y2="1077.67" stroke="#000" stroke-width="2.2" stroke-linecap="butt"/>
<text transform="translate(283.60,1081.32) scale(1.1,1)" font-size="10.2" font-weight="bold" text-anchor="end" fill="#000">1</text>
<line x1="284.55" y1="1028.34" x2="289.00" y2="1028.34" stroke="#000" stroke-width="2.2" stroke-linecap="butt"/>
<text transform="translate(283.60,1031.99) scale(1.1,1)" font-size="10.2" font-weight="bold" text-anchor="end" fill="#000">2</text>
<line x1="284.55" y1="979.01" x2="289.00" y2="979.01" stroke="#000" stroke-width="2.2" stroke-linecap="butt"/>
<text transform="translate(283.60,982.66) scale(1.1,1)" font-size="10.2" font-weight="bold" text-anchor="end" fill="#000">3</text>
<line x1="287.75" y1="1127.00" x2="499.40" y2="1127.00" stroke="#000" stroke-width="2.5" stroke-linecap="butt"/>
<line x1="289.00" y1="1127.00" x2="289.00" y2="1131.45" stroke="#000" stroke-width="2.2" stroke-linecap="butt"/>
<line x1="331.10" y1="1127.00" x2="331.10" y2="1131.45" stroke="#000" stroke-width="2.2" stroke-linecap="butt"/>
<line x1="373.20" y1="1127.00" x2="373.20" y2="1131.45" stroke="#000" stroke-width="2.2" stroke-linecap="butt"/>
<line x1="415.30" y1="1127.00" x2="415.30" y2="1131.45" stroke="#000" stroke-width="2.2" stroke-linecap="butt"/>
<line x1="457.40" y1="1127.00" x2="457.40" y2="1131.45" stroke="#000" stroke-width="2.2" stroke-linecap="butt"/>
<line x1="499.50" y1="1127.00" x2="499.50" y2="1131.45" stroke="#000" stroke-width="2.2" stroke-linecap="butt"/>
<text transform="translate(289.00,1144.60) scale(1.1,1)" font-size="10.2" font-weight="bold" text-anchor="middle" fill="#000">0</text>
<text transform="translate(331.10,1144.60) scale(1.1,1)" font-size="10.2" font-weight="bold" text-anchor="middle" fill="#000">5</text>
<text transform="translate(373.20,1144.60) scale(1.1,1)" font-size="10.2" font-weight="bold" text-anchor="middle" fill="#000">10</text>
<text transform="translate(415.30,1144.60) scale(1.1,1)" font-size="10.2" font-weight="bold" text-anchor="middle" fill="#000">15</text>
<text transform="translate(457.40,1144.60) scale(1.1,1)" font-size="10.2" font-weight="bold" text-anchor="middle" fill="#000">20</text>
<text transform="translate(499.50,1144.60) scale(1.1,1)" font-size="10.2" font-weight="bold" text-anchor="middle" fill="#000">25</text>
<text transform="translate(272.30,1048.00) scale(1.1,1) rotate(-90)" font-size="12.0" font-weight="bold" text-anchor="middle" fill="#000">circRNA_103765 relative expression</text>
<text transform="translate(372.20,981.00) scale(0.9339,1)" font-size="12.3" fill="#222"><tspan font-weight="normal">Failure</tspan></text>
<text transform="translate(361.20,1162.30) scale(0.9380,1)" font-size="12.2" fill="#222"><tspan font-weight="normal">TNF-α(pg/ml)</tspan></text>
<line x1="326.40" y1="1050.60" x2="465.60" y2="1033.00" stroke="#000" stroke-width="2.8" stroke-linecap="butt"/>
<circle cx="326.40" cy="1036.60" r="2.85"/>
<circle cx="333.00" cy="1036.60" r="2.85"/>
<circle cx="357.00" cy="1047.60" r="2.85"/>
<circle cx="356.00" cy="1074.60" r="2.85"/>
<circle cx="391.00" cy="1026.00" r="2.85"/>
<circle cx="394.00" cy="1052.00" r="2.85"/>
<circle cx="404.60" cy="1058.40" r="2.85"/>
<circle cx="426.40" cy="1018.50" r="2.85"/>
<circle cx="443.50" cy="1018.50" r="2.85"/>
<circle cx="444.00" cy="1082.40" r="2.85"/>
<circle cx="465.70" cy="1008.40" r="2.85"/>
<text transform="translate(468.43,1084.90) scale(1.0300,1)" font-size="11.8" fill="#222">R<tspan font-size="8.26" dy="-5.31">2</tspan><tspan dy="5.31">=0.0629</tspan></text>
</svg>
</body></html>
